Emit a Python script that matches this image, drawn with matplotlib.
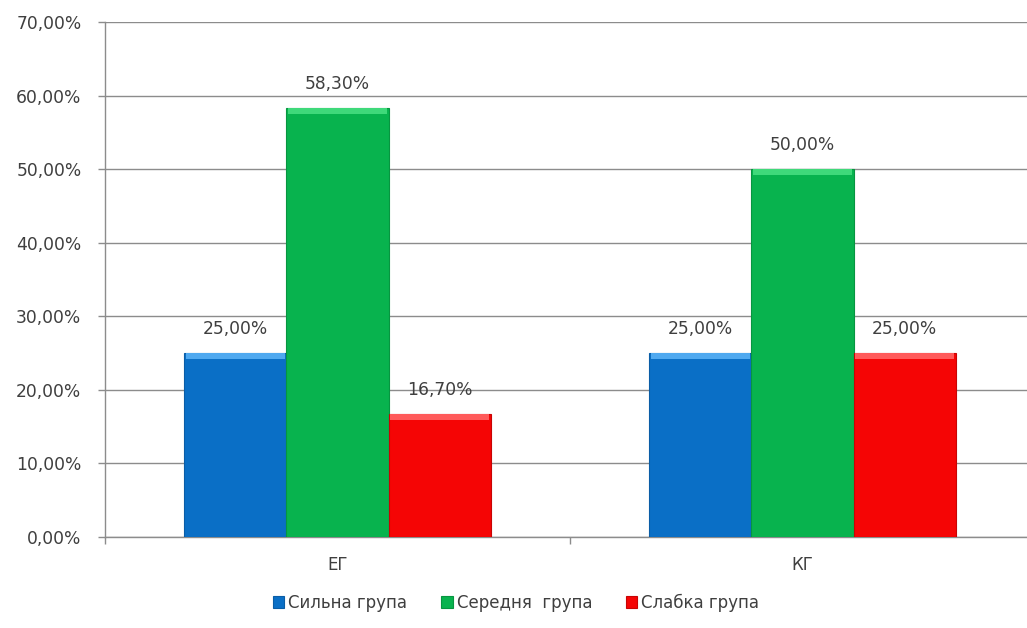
import matplotlib
matplotlib.use("Agg")
import matplotlib.pyplot as plt
from matplotlib.patches import Patch
from matplotlib.ticker import FixedLocator, FuncFormatter
import numpy as np

plt.rcParams['font.family'] = ['DejaVu Sans']

# data
categories = ["ЕГ", "КГ"]
series_names = ["Сильна група", "Середня  група", "Слабка група"]
strong = [25.00, 25.00]
middle = [58.30, 50.00]
weak = [16.70, 25.00]

colors = ["#0A6FC6", "#08B34E", "#F50505"]
highlights = ["#4FA9F0", "#3FD97A", "#FF5A5A"]
edges = ["#0A5DA6", "#079540", "#C80404"]
text_color = "#3F3F3F"

W, H = 1027, 628
fig = plt.figure(figsize=(W / 100, H / 100), dpi=100)
fig.patch.set_facecolor("white")

left, right, top, bottom = 105, 1035, 22, 537
ax = fig.add_axes([left / W, 1 - bottom / H, (right - left) / W, (bottom - top) / H])

x = np.arange(len(categories))
bar_w = 0.22
offsets = [-bar_w, 0.0, bar_w]
series = [strong, middle, weak]

for vals, off, c, hl, ec, name in zip(series, offsets, colors, highlights, edges, series_names):
    pos = x + off
    ax.bar(pos, vals, width=bar_w, color=c, edgecolor=ec, linewidth=0.8, zorder=3, label=name)
    # bevel highlight along the top edge
    strip = 0.85
    ax.bar(pos, [strip] * len(vals), bottom=[v - strip for v in vals], width=bar_w * 0.97,
           color=hl, linewidth=0, zorder=4)
    for px, v in zip(pos, vals):
        ax.text(px, v + 2.1, f"{v:.2f}%".replace(".", ","), ha="center", va="bottom",
                fontsize=12.3, color=text_color, zorder=5)

ax.set_ylim(0, 70)
ax.set_xlim(-0.5, 1.5)
ax.set_yticks(np.arange(0, 71, 10))
ax.yaxis.set_major_formatter(FuncFormatter(lambda v, p: f"{v:.2f}%".replace(".", ",")))
ax.yaxis.grid(True, color="#8C8C8C", linewidth=1.0, zorder=0)
ax.set_axisbelow(True)

ax.xaxis.set_major_locator(FixedLocator([-0.5, 0.5, 1.5]))
ax.xaxis.set_major_formatter(FuncFormatter(lambda v, p: ""))
ax.xaxis.set_minor_locator(FixedLocator(list(x)))
ax.set_xticklabels(categories, minor=True)
ax.tick_params(axis="x", which="minor", length=0, pad=14, labelsize=12, labelcolor=text_color)
ax.tick_params(axis="x", which="major", length=5, width=1, color="#8C8C8C", direction="out")
ax.tick_params(axis="y", length=5, width=1, color="#8C8C8C", direction="out", pad=12,
               labelsize=12.3, labelcolor=text_color)

for s in ["top", "right"]:
    ax.spines[s].set_visible(False)
for s in ["left", "bottom"]:
    ax.spines[s].set_color("#8C8C8C")
    ax.spines[s].set_linewidth(1.0)

handles = [Patch(facecolor=c, edgecolor=e, linewidth=0.8) for c, e in zip(colors, edges)]
fig.legend(handles, series_names, loc="center", bbox_to_anchor=(516 / W, 1 - 603 / H),
           ncol=3, frameon=False, fontsize=12, labelcolor=text_color,
           handlelength=0.7, handleheight=0.7, handletextpad=0.25, columnspacing=2.0)

fig.savefig("out.png", dpi=100, facecolor="white")
